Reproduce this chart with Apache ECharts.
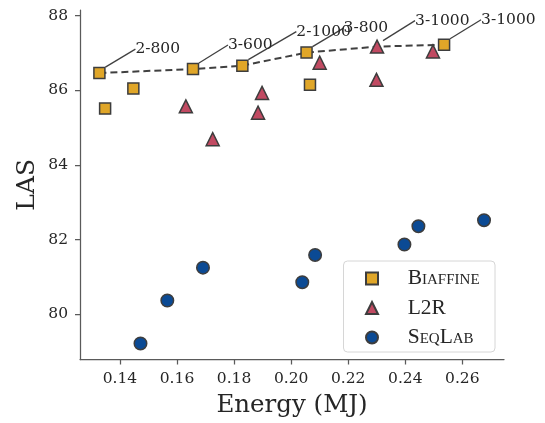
<!DOCTYPE html>
<html><head><meta charset="utf-8">
<script src="https://cdn.jsdelivr.net/npm/echarts@6/dist/echarts.min.js"></script>
<style>html,body{margin:0;padding:0;background:#fff}#c{width:545px;height:423px}</style>
</head><body><div id="c"></div>
<script>
// ---- data ----
const xTicks = [0.14, 0.16, 0.18, 0.20, 0.22, 0.24, 0.26];
const yTicks = [80, 82, 84, 86, 88];

const seriesNames = ['Biaffine', 'L2R', 'SeqLab'];

const biaffineX = [0.1328, 0.1348, 0.1447, 0.1656, 0.1829, 0.2054, 0.2066, 0.2536];
const biaffineY = [86.46, 85.51, 86.05, 86.57, 86.66, 87.01, 86.15, 87.22];

const l2rX = [0.1631, 0.1725, 0.1884, 0.1898, 0.2100, 0.2301, 0.2299, 0.2497];
const l2rY = [85.57, 84.69, 85.40, 85.93, 86.74, 87.17, 86.28, 87.04];

const seqLabX = [0.1472, 0.1566, 0.1691, 0.2039, 0.2084, 0.2397, 0.2446, 0.2676];
const seqLabY = [79.22, 80.37, 81.25, 80.86, 81.59, 81.87, 82.36, 82.52];

const frontierX = [0.1328, 0.1656, 0.1829, 0.2054, 0.2301, 0.2536];
const frontierY = [86.46, 86.57, 86.66, 87.01, 87.17, 87.22];
const frontierLabels = ['2-800', '3-600', '2-1000', '3-800', '3-1000', '3-1000'];

// ---- styling ----
const labelOffsets = [[36, -24], [35, -24], [54, -34], [37, -24.5], [38, -26], [37, -25]];
const serif = 'DejaVu Serif';
const textColor = '#262626';
const axisColor = '#5a5a5a';
const edge = '#3d3d3d';
const zip = (xs, ys) => xs.map((x, i) => [x, ys[i]]);

const chart = echarts.init(document.getElementById('c'), null, {renderer: 'canvas'});
chart.setOption({
  animation: false,
  backgroundColor: '#fff',
  grid: {left: 80, right: 41, top: 10, bottom: 61},
  xAxis: {
    type: 'value', min: 0.126, max: 0.2746,
    name: 'Energy (MJ)', nameLocation: 'middle', nameGap: 33.5,
    nameTextStyle: {fontFamily: serif, fontSize: 24.5, color: textColor},
    axisLine: {show: true, onZero: false, lineStyle: {color: axisColor, width: 1.25}},
    axisTick: {show: true, length: 5, customValues: xTicks, lineStyle: {color: axisColor, width: 1.25}},
    axisLabel: {customValues: xTicks, margin: 11, formatter: v => v.toFixed(2),
      fontFamily: serif, fontSize: 15.5, color: textColor},
    splitLine: {show: false}
  },
  yAxis: {
    type: 'value', min: 78.79, max: 88.15,
    name: 'LAS', nameLocation: 'middle', nameGap: 40.5, nameRotate: 90,
    nameMoveOverlap: false,
    nameTextStyle: {fontFamily: serif, fontSize: 25, color: textColor},
    axisLine: {show: true, onZero: false, lineStyle: {color: axisColor, width: 1.25}},
    axisTick: {show: true, length: 5, customValues: yTicks, lineStyle: {color: axisColor, width: 1.25}},
    axisLabel: {customValues: yTicks, margin: 12, fontFamily: serif, fontSize: 15.5, color: textColor},
    splitLine: {show: false}
  },
  legend: {
    data: seriesNames,
    orient: 'vertical', left: 365, top: 267.5, padding: 0,
    itemWidth: 12, itemHeight: 12, itemGap: 7.5,
    textStyle: {fontFamily: 'Liberation Serif', fontSize: 21.5, fontStyle: 'small-caps',
      color: textColor, padding: [0, 0, 0, 24.7]}
  },
  graphic: [{
    type: 'rect', z: 3,
    shape: {x: 343.5, y: 261, width: 151.5, height: 91, r: 4},
    style: {fill: 'rgba(255,255,255,0.8)', stroke: '#d6d6d6', lineWidth: 1}
  }],
  series: [
    {
      type: 'line', data: zip(frontierX, frontierY), symbol: 'none', z: 1, silent: true,
      lineStyle: {color: '#404040', width: 2, type: [7, 4]}
    },
    {
      name: seriesNames[0], type: 'scatter', data: zip(biaffineX, biaffineY), z: 3,
      symbol: 'rect', symbolSize: 11,
      itemStyle: {color: '#E0A628', borderColor: edge, borderWidth: 1.5, opacity: 1}
    },
    {
      name: seriesNames[1], type: 'scatter', data: zip(l2rX, l2rY), z: 3,
      symbol: 'triangle', symbolSize: 13,
      itemStyle: {color: '#C14A62', borderColor: edge, borderWidth: 1.5, opacity: 1}
    },
    {
      name: seriesNames[2], type: 'scatter', data: zip(seqLabX, seqLabY), z: 3,
      symbol: 'circle', symbolSize: 12.5,
      itemStyle: {color: '#0B4A94', borderColor: edge, borderWidth: 1.5, opacity: 1}
    },
    {
      type: 'scatter', data: zip(frontierX, frontierY), z: 2, silent: true,
      symbol: 'rect', symbolSize: 12,
      itemStyle: {color: 'rgba(0,0,0,0)', borderWidth: 0, opacity: 1},
      label: {
        show: true, position: 'inside', opacity: 1,
        formatter: p => frontierLabels[p.dataIndex],
        fontFamily: serif, fontSize: 15.5, color: textColor
      },
      labelLayout: function (p) {
        const off = labelOffsets[p.dataIndex];
        const cx = p.rect.x + p.rect.width / 2;
        const cy = p.rect.y + p.rect.height / 2;
        return {x: cx + off[0], y: cy + off[1], align: 'left', verticalAlign: 'middle'};
      },
      labelLine: {show: true, length2: 0, lineStyle: {color: '#404040', width: 1.3, opacity: 1}}
    }
  ]
});
</script></body></html>
